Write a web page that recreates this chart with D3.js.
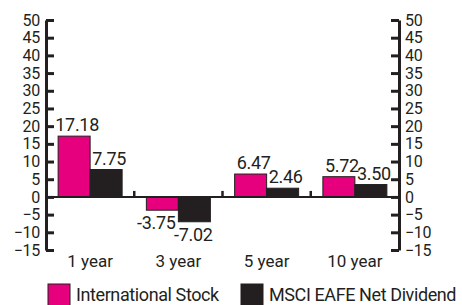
<!DOCTYPE html>
<html>
<head>
<meta charset="utf-8">
<script src="https://cdn.jsdelivr.net/npm/d3@7"></script>
<style>
  body { margin: 0; background: #fff; }
  text { font-family: Roboto, "Liberation Sans", sans-serif; fill: #231f20; }
</style>
</head>
<body>
<div id="chartDiv"></div>
<script>
// Data
const categories = ['1 year', '3 year', '5 year', '10 year'];
const seriesNames = ['International Stock', 'MSCI EAFE Net Dividend'];
const intlStock = [17.18, -3.75, 6.47, 5.72];
const eafe = [7.75, -7.02, 2.46, 3.50];
const yTickValues = [-15, -10, -5, 0, 5, 10, 15, 20, 25, 30, 35, 40, 45, 50];

const colors = ['#e6007e', '#231f20'];
const ink = '#231f20';

const width = 462, height = 305;
const margin = { left: 46, right: 63, top: 20, bottom: 55 };

const svg = d3.select('#chartDiv').append('svg')
  .attr('width', width)
  .attr('height', height);

// Scales
const xScale = d3.scaleBand()
  .domain(categories)
  .range([margin.left, width - margin.right])
  .padding(0);

const groupWidth = 64;
const xInner = d3.scaleBand()
  .domain(d3.range(seriesNames.length))
  .range([0, groupWidth]);

const yScale = d3.scaleLinear()
  .domain([-15, 50])
  .range([height - margin.bottom, margin.top]);

// Rows for the bars
const rows = [];
categories.forEach((c, i) => {
  rows.push({ cat: c, s: 0, v: intlStock[i] });
  rows.push({ cat: c, s: 1, v: eafe[i] });
});
const barX = d => xScale(d.cat) + (xScale.bandwidth() - groupWidth) / 2 + xInner(d.s);

// Bars
svg.append('g').selectAll('rect')
  .data(rows)
  .enter().append('rect')
    .attr('x', barX)
    .attr('y', d => yScale(Math.max(0, d.v)))
    .attr('width', xInner.bandwidth())
    .attr('height', d => Math.abs(yScale(d.v) - yScale(0)))
    .attr('fill', d => colors[d.s])
    .attr('stroke', ink)
    .attr('stroke-width', 1);

// Zero line with category separators
const zeroG = svg.append('g');
zeroG.append('line')
  .attr('x1', xScale.range()[0]).attr('x2', xScale.range()[1])
  .attr('y1', yScale(0)).attr('y2', yScale(0))
  .attr('stroke', ink).attr('stroke-width', 2);
zeroG.selectAll('.sep')
  .data(categories.slice(1))
  .enter().append('line')
    .attr('x1', d => xScale(d)).attr('x2', d => xScale(d))
    .attr('y1', yScale(0)).attr('y2', yScale(0) - 6)
    .attr('stroke', ink).attr('stroke-width', 2.5);

// Value labels
svg.append('g').selectAll('text')
  .data(rows)
  .enter().append('text')
    .attr('x', d => barX(d) + xInner.bandwidth() / 2 + (d.v >= 0 ? 3 : (d.s === 0 ? -6 : -1)))
    .attr('y', d => d.v >= 0 ? yScale(d.v) - 5 : yScale(d.v) + 19)
    .attr('text-anchor', 'middle')
    .style('font-size', '18px')
    .style('letter-spacing', '-0.3px')
    .text(d => d.v.toFixed(2));

// Axes
const leftAxis = d3.axisLeft(yScale)
  .tickValues(yTickValues)
  .tickSizeInner(-8)
  .tickSizeOuter(0)
  .tickPadding(6);

const rightAxis = d3.axisRight(yScale)
  .tickValues(yTickValues)
  .tickSizeInner(-8)
  .tickSizeOuter(0)
  .tickPadding(6);

const leftG = svg.append('g')
  .attr('transform', `translate(${margin.left},0)`)
  .call(leftAxis);
const rightG = svg.append('g')
  .attr('transform', `translate(${width - margin.right},0)`)
  .call(rightAxis);

[leftG, rightG].forEach(g => {
  g.select('.domain').attr('stroke', ink).attr('stroke-width', 3);
  g.selectAll('.tick line').attr('stroke', ink).attr('stroke-width', 3);
  g.selectAll('.tick text')
    .attr('fill', '#333')
    .style('font-size', '16px')
    .style('letter-spacing', '-0.3px')
    .style('font-family', 'Roboto, "Liberation Sans", sans-serif');
});

// Category labels
svg.append('g').selectAll('text')
  .data(categories)
  .enter().append('text')
    .attr('x', d => xScale(d) + xScale.bandwidth() / 2)
    .attr('y', 267)
    .attr('text-anchor', 'middle')
    .style('font-size', '17px')
    .text(d => d);

// Legend
const legendX = [48, 241];
const legend = svg.append('g').selectAll('g')
  .data(seriesNames)
  .enter().append('g')
    .attr('transform', (d, i) => `translate(${legendX[i]},284)`);
legend.append('rect')
  .attr('width', 22).attr('height', 22)
  .attr('fill', (d, i) => colors[i])
  .attr('stroke', ink).attr('stroke-width', 1);
legend.append('text')
  .attr('x', 28).attr('y', 17)
  .style('font-size', '18px')
  .style('letter-spacing', '-0.4px')
  .text(d => d);
</script>
</body>
</html>
